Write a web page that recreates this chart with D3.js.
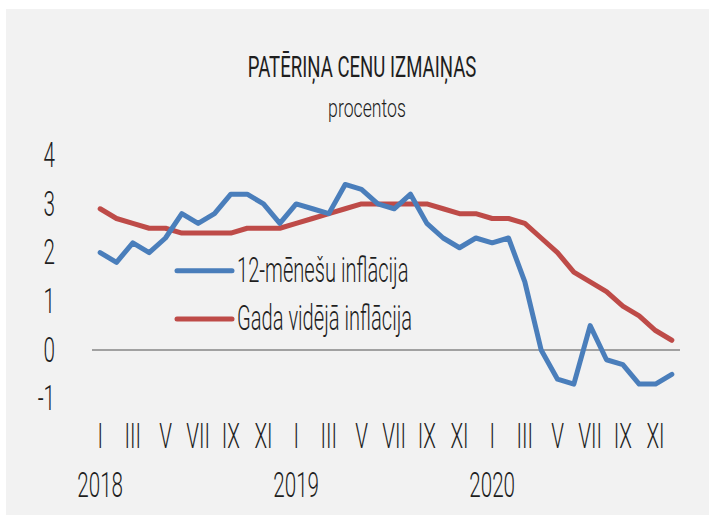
<!DOCTYPE html>
<html>
<head>
<meta charset="utf-8">
<script src="https://cdn.jsdelivr.net/npm/d3@7"></script>
<style>
  body { margin: 0; background: #fff; }
  text { font-family: Roboto, "Liberation Sans", Arial, sans-serif; font-weight: 300; fill: #1e1e1e; }
</style>
</head>
<body>
<svg id="chart"></svg>
<script>
// --- data ---
const years = [2018, 2019, 2020];
const romanMonths = ["I", "II", "III", "IV", "V", "VI", "VII", "VIII", "IX", "X", "XI", "XII"];
const inflation12m = [
  2.0, 1.8, 2.2, 2.0, 2.3, 2.8, 2.6, 2.8, 3.2, 3.2, 3.0, 2.6,
  3.0, 2.9, 2.8, 3.4, 3.3, 3.0, 2.9, 3.2, 2.6, 2.3, 2.1, 2.3,
  2.2, 2.3, 1.4, 0.0, -0.6, -0.7, 0.5, -0.2, -0.3, -0.7, -0.7, -0.5
];
const inflationAvg = [
  2.9, 2.7, 2.6, 2.5, 2.5, 2.4, 2.4, 2.4, 2.4, 2.5, 2.5, 2.5,
  2.6, 2.7, 2.8, 2.9, 3.0, 3.0, 3.0, 3.0, 3.0, 2.9, 2.8, 2.8,
  2.7, 2.7, 2.6, 2.3, 2.0, 1.6, 1.4, 1.2, 0.9, 0.7, 0.4, 0.2
];
const seriesNames = ["12-mēnešu inflācija", "Gada vidējā inflācija"];
const seriesColors = ["#4a7ebb", "#be4b48"];
const yTicks = [-1, 0, 1, 2, 3, 4];

const width = 709, height = 517;
const condense = 0.59; // narrow look of the original font

const svg = d3.select("#chart")
  .attr("width", width)
  .attr("height", height);

svg.append("rect")
  .attr("x", 6).attr("y", 9)
  .attr("width", width - 6).attr("height", 506)
  .attr("fill", "#f2f2f2");

// months as index 0..35
const months = d3.range(years.length * 12);
const x = d3.scaleBand().domain(months).range([92, 680]);
const cx = i => x(i) + x.bandwidth() / 2;
const y = d3.scaleLinear().domain([-1, 4]).range([398.7, 155.2]);

// title
svg.append("text")
  .attr("transform", `translate(362,76.5) scale(0.62,1)`)
  .attr("text-anchor", "middle")
  .attr("font-size", 30)
  .style("font-weight", 400)
  .text("PATĒRIŅA CENU IZMAIŅAS");

svg.append("text")
  .attr("transform", `translate(367,117) scale(0.68,1)`)
  .attr("text-anchor", "middle")
  .attr("font-size", 26)
  .text("procentos");

// y axis
const yAxis = svg.append("g")
  .attr("transform", "translate(92,0)")
  .call(d3.axisLeft(y).tickValues(yTicks).tickSize(0).tickFormat(d => String(d)));
yAxis.select(".domain").remove();
yAxis.selectAll("text")
  .attr("x", 0)
  .attr("transform", `translate(-37,0) scale(${condense},1)`)
  .attr("font-size", 35)
  .attr("font-family", null)
  .attr("fill", "#1e1e1e");

// zero line
svg.append("line")
  .attr("x1", x.range()[0]).attr("x2", x.range()[1])
  .attr("y1", y(0)).attr("y2", y(0))
  .attr("stroke", "#868686").attr("stroke-width", 1.5);

// x axis: odd months
const xAxis = svg.append("g")
  .attr("transform", "translate(0,448)")
  .call(d3.axisBottom(x)
    .tickValues(months.filter(m => m % 2 === 0))
    .tickSize(0)
    .tickFormat(m => romanMonths[m % 12]));
xAxis.select(".domain").remove();
xAxis.selectAll("text")
  .attr("y", 0).attr("dy", 0)
  .attr("transform", `scale(${condense},1)`)
  .attr("font-size", 35)
  .attr("font-family", null)
  .attr("fill", "#1e1e1e");

// years
svg.append("g").selectAll("text")
  .data(years)
  .join("text")
  .attr("transform", (d, i) => `translate(${cx(i * 12)},497) scale(${condense},1)`)
  .attr("text-anchor", "middle")
  .attr("font-size", 35)
  .text(d => d);

// lines
const line = d3.line()
  .x((d, i) => cx(i))
  .y(d => y(d));

[inflationAvg, inflation12m].forEach((s, k) => {
  svg.append("path")
    .datum(s)
    .attr("d", line)
    .attr("fill", "none")
    .attr("stroke", seriesColors[1 - k])
    .attr("stroke-width", 5)
    .attr("stroke-linejoin", "round")
    .attr("stroke-linecap", "round");
});

// legend
const legend = svg.append("g").selectAll("g")
  .data(seriesNames)
  .join("g")
  .attr("transform", (d, i) => `translate(177,${270.7 + i * 48.3})`);

legend.append("line")
  .attr("x1", 0).attr("x2", 55)
  .attr("stroke", (d, i) => seriesColors[i])
  .attr("stroke-width", 5)
  .attr("stroke-linecap", "round");

legend.append("text")
  .attr("transform", `translate(60,11) scale(0.575,1)`)
  .attr("font-size", 35)
  .text(d => d);
</script>
</body>
</html>
